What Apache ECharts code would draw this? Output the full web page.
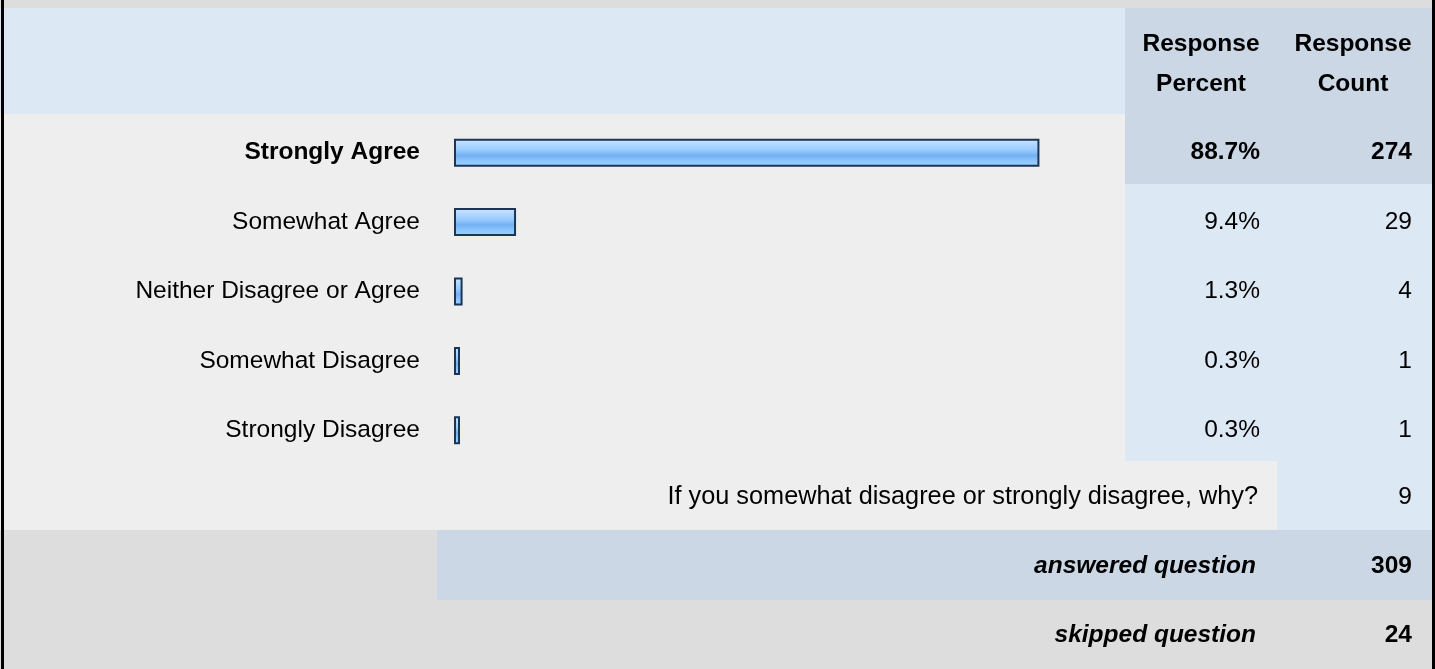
<!DOCTYPE html>
<html>
<head>
<meta charset="utf-8">
<script src="https://cdn.jsdelivr.net/npm/echarts@6/dist/echarts.min.js"></script>
<style>
  html, body { margin: 0; padding: 0; }
  #chart { width: 1435px; height: 669px; }
</style>
</head>
<body>
<div id="chart"></div>
<script>
const categories = ['Strongly Agree', 'Somewhat Agree', 'Neither Disagree or Agree', 'Somewhat Disagree', 'Strongly Disagree']
const percents = [88.7, 9.4, 1.3, 0.3, 0.3]
const counts = [274, 29, 4, 1, 1]
const headers = ['Response\nPercent', 'Response\nCount']
const otherText = 'If you somewhat disagree or strongly disagree, why?'
const otherCount = 9
const answered = 309
const skipped = 24

const font = 'Arial, "Liberation Sans", sans-serif'
const chart = echarts.init(document.getElementById('chart'))

function rect(x, y, w, h, color) {
  return { type: 'rect', z: -10, silent: true, shape: { x: x, y: y, width: w, height: h }, style: { fill: color } }
}
function txt(x, y, text, align, weight, style, size) {
  return {
    type: 'text', z: 10, x: x, y: y, silent: true,
    style: {
      text: text, align: align, verticalAlign: 'middle',
      font: (style || 'normal') + ' ' + (weight || 'normal') + ' ' + (size || 25) + 'px ' + font,
      fill: '#000', lineHeight: 40
    }
  }
}

const labelRich = {
  b: { fontWeight: 'bold', fontSize: 24.5, fontFamily: font, color: '#000' },
  n: { fontWeight: 'normal', fontSize: 24.5, fontFamily: font, color: '#000' }
}

let option = {
  backgroundColor: '#eeeeee',
  animation: false,
  grid: { left: 454, width: 660, top: 118, height: 347 },
  xAxis: { type: 'value', min: 0, max: 100, show: false },
  yAxis: [
    {
      type: 'category', inverse: true, data: categories,
      axisLine: { show: false }, axisTick: { show: false },
      axisLabel: {
        margin: 34,
        formatter: (v, i) => (i === 0 ? '{b|' + v + '}' : '{n|' + v + '}'),
        rich: labelRich
      }
    },
    {
      type: 'category', inverse: true, position: 'right', data: percents,
      axisLine: { show: false }, axisTick: { show: false },
      axisLabel: {
        margin: 146, align: 'right',
        formatter: (v, i) => (i === 0 ? '{b|' + Number(v).toFixed(1) + '%}' : '{n|' + Number(v).toFixed(1) + '%}'),
        rich: labelRich
      }
    },
    {
      type: 'category', inverse: true, position: 'right', data: counts,
      axisLine: { show: false }, axisTick: { show: false },
      axisLabel: {
        margin: 298, align: 'right',
        formatter: (v, i) => (i === 0 ? '{b|' + v + '}' : '{n|' + v + '}'),
        rich: labelRich
      }
    }
  ],
  series: [
    {
      type: 'bar',
      data: percents,
      barWidth: 28,
      barMinHeight: 6,
      itemStyle: {
        borderColor: '#1c3557',
        borderWidth: 2,
        color: new echarts.graphic.LinearGradient(0, 0, 0, 1, [
          { offset: 0, color: '#cfe6ff' },
          { offset: 0.2, color: '#b2d8ff' },
          { offset: 0.4, color: '#99ccff' },
          { offset: 0.6, color: '#74b0f2' },
          { offset: 0.8, color: '#8ec6ff' },
          { offset: 1, color: '#9ccfff' }
        ])
      }
    }
  ],
  graphic: [
    rect(0, 0, 1435, 8, '#dddddd'),
    rect(0, 8, 1435, 106, '#dde8f5'),
    rect(1125, 8, 310, 106, '#cbd7e5'),
    rect(1125, 114, 310, 70, '#cbd7e5'),
    rect(1125, 184, 310, 277, '#dde8f5'),
    rect(1277, 461, 158, 69, '#dde8f5'),
    rect(0, 530, 437, 70, '#dddddd'),
    rect(437, 530, 998, 70, '#cbd7e5'),
    rect(0, 600, 1435, 69, '#dddddd'),
    rect(1, 0, 3, 669, '#000000'),
    rect(1432, 0, 3, 669, '#000000'),
    txt(1201, 64, headers[0], 'center', 'bold', null, 24.5),
    txt(1353, 64, headers[1], 'center', 'bold', null, 24.5),
    txt(1258, 497, otherText, 'right', null, null, 25.3),
    txt(1412, 497, String(otherCount), 'right', null, null, 24.5),
    txt(1256, 566, 'answered question', 'right', 'bold', 'italic', 24.5),
    txt(1412, 566, String(answered), 'right', 'bold', null, 24.5),
    txt(1256, 635, 'skipped question', 'right', 'bold', 'italic', 24.5),
    txt(1412, 635, String(skipped), 'right', 'bold', null, 24.5)
  ]
}
chart.setOption(option)
</script>
</body>
</html>
